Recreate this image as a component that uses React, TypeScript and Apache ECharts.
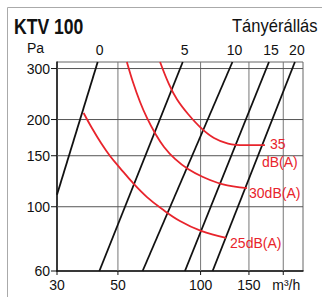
import React, { useEffect, useRef } from "react";
import * as echarts from "echarts";

// axis ticks / grid
const xTickValues = [30, 50, 100, 150];
const xGridValues = [50, 100, 150, 200];
const yTickValues = [60, 100, 150, 200, 300];
const yGridValues = [100, 150, 200, 300];
const xMin = 30;
const xMax = 236;
const yMin = 60;
const yMax = 316;

// damper position lines (m3/h, Pa)
const positionLabels = ["0", "5", "10", "15", "20"];
const pos0 = [[30, 110], [42.2, 316]];
const pos5 = [[42.8, 60], [86.1, 316]];
const pos10 = [[61.5, 60], [130.6, 316]];
const pos15 = [[87.7, 60], [177.4, 316]];
const pos20 = [[110.6, 60], [220.5, 316]];
const positionLines = [pos0, pos5, pos10, pos15, pos20];

// sound level curves
const db35 = [[71.2, 316], [76.7, 265], [82.0, 235], [90.0, 209], [100.4, 187], [111.9, 172.7], [125.9, 165.3], [145.1, 163.3], [171.5, 163.3]];
const db30 = [[53.9, 316], [56.7, 269.5], [60.2, 229.9], [63.8, 202.5], [68.2, 179.7], [73.6, 160.8], [80.7, 146.2], [90.0, 134.9], [102.0, 126.7], [119.7, 119.8], [147.6, 116.0]];
const db25 = [[37.5, 210.7], [40.2, 187], [43.4, 166.0], [46.8, 149.7], [50.9, 136.0], [56.7, 120.8], [63.8, 108.0], [72.4, 98.2], [84.1, 89.3], [100.4, 82.5], [123.8, 78.0]];

const RED = "#e8242c";
const FONT = "'Liberation Sans', Arial, Helvetica, sans-serif";

export default function App() {
  const ref = useRef<HTMLDivElement>(null);
  useEffect(() => {
    if (!ref.current) return;
    const chart = echarts.init(ref.current, null, { renderer: "svg" });
    const series: any[] = [];
    xGridValues.forEach((v) => {
      series.push({
        type: "line", silent: true, symbol: "none", z: 1,
        data: [[v, yMin], [v, yMax]],
        lineStyle: { color: "#777", width: 1 },
      });
    });
    yGridValues.forEach((v) => {
      series.push({
        type: "line", silent: true, symbol: "none", z: 1,
        data: [[xMin, v], [xMax, v]],
        lineStyle: { color: "#555", width: 1 },
      });
    });
    positionLines.forEach((pts) => {
      series.push({
        type: "line", silent: true, symbol: "none", z: 3,
        data: pts,
        lineStyle: { color: "#111", width: 1.8 },
      });
    });
    [db35, db30, db25].forEach((pts) => {
      series.push({
        type: "line", silent: true, symbol: "none", z: 4,
        smooth: 0.4,
        data: pts,
        lineStyle: { color: RED, width: 1.8 },
      });
    });
    chart.setOption({
      animation: false,
      backgroundColor: "#fff",
      grid: {
        left: 57, top: 62, width: 246, height: 209,
        show: true, borderColor: "#666", borderWidth: 1,
      },
      xAxis: {
        type: "log", logBase: 10, min: xMin, max: xMax,
        axisLine: { show: true, lineStyle: { color: "#111", width: 1.5 } },
        axisTick: { show: false }, axisLabel: { show: false }, splitLine: { show: false },
      },
      yAxis: {
        type: "log", logBase: 10, min: yMin, max: yMax,
        axisLine: { show: true, lineStyle: { color: "#111", width: 1.5 } },
        axisTick: { show: false }, axisLabel: { show: false }, splitLine: { show: false },
      },
      series,
    });

    const toPx = (x: number, y: number) => chart.convertToPixel({ gridIndex: 0 }, [x, y]) as number[];
    const graphics: any[] = [];
    const txt = (text: string, x: number, y: number, opts: any = {}) => ({
      type: "text", x, y, z: 10, silent: true,
      scaleX: opts.scaleX || 1,
      style: {
        text, fill: opts.fill || "#111", fontSize: opts.fontSize || 14,
        fontFamily: opts.fontFamily || FONT, fontWeight: opts.fontWeight || "normal",
        align: opts.align || "left", verticalAlign: opts.verticalAlign || "middle",
      },
    });
    // frame
    graphics.push({ type: "rect", z: 0, silent: true, shape: { x: 7.5, y: 7.5, width: 400, height: 400 }, style: { fill: "none", stroke: "#aaa", lineWidth: 1 } });
    // title
    graphics.push(txt("KTV 100", 14, 26, { fontSize: 22, fontWeight: "bold", scaleX: 0.8 }));
    graphics.push(txt("Tányérállás", 232, 26, { fontSize: 18, scaleX: 0.92 }));
    graphics.push(txt("Pa", 27, 48, { fontSize: 14 }));
    // y ticks & labels
    yTickValues.forEach((v) => {
      const [px, py] = toPx(xMin, v);
      graphics.push({ type: "line", z: 10, silent: true, shape: { x1: px - 6, y1: py, x2: px, y2: py }, style: { stroke: "#111", lineWidth: 1 } });
      graphics.push(txt(String(v), px - 7, py, { align: "right" }));
    });
    // x ticks & labels
    xTickValues.forEach((v) => {
      const [px, py] = toPx(v, yMin);
      graphics.push(txt(String(v), px, py + 14, { align: "center" }));
    });
    xGridValues.concat([30]).forEach((v) => {
      const [px, py] = toPx(v, yMin);
      graphics.push({ type: "line", z: 10, silent: true, shape: { x1: px, y1: py, x2: px, y2: py + 4 }, style: { stroke: "#111", lineWidth: 1 } });
    });
    {
      const [px, py] = toPx(200, yMin);
      graphics.push(txt("m³/h", px + 3, py + 14, { align: "center" }));
    }
    // position labels at the top end of each line
    positionLines.forEach((pts, i) => {
      const top = pts[pts.length - 1];
      const [px, py] = toPx(top[0], top[1]);
      graphics.push(txt(positionLabels[i], px + 2, py - 12, { align: "center" }));
    });
    // dB labels
    {
      const e35 = db35[db35.length - 1];
      const [x35, y35] = toPx(e35[0], e35[1]);
      graphics.push(txt("35", x35 + 5, y35 - 1, { fill: RED }));
      graphics.push(txt("dB(A)", x35 - 3, y35 + 17, { fill: RED }));
      const e30 = db30[db30.length - 1];
      const [x30, y30] = toPx(e30[0], e30[1]);
      graphics.push(txt("30dB(A)", x30 + 2, y30 + 5, { fill: RED }));
      const e25 = db25[db25.length - 1];
      const [x25, y25] = toPx(e25[0], e25[1]);
      graphics.push(txt("25dB(A)", x25 + 4, y25 + 5, { fill: RED }));
    }
    chart.setOption({ graphic: graphics });
    return () => chart.dispose();
  }, []);
  return (
    <div
      ref={ref}
      style={{ position: "fixed", left: 0, top: 0, width: 322, height: 297, background: "#fff" }}
    />
  );
}
